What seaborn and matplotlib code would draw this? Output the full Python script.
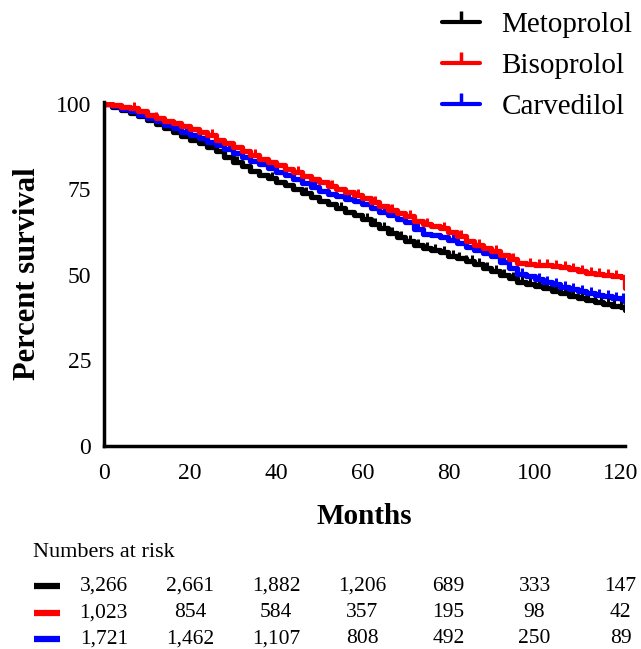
import numpy as np
import pandas as pd
import matplotlib
matplotlib.use("Agg")
import matplotlib.pyplot as plt
import matplotlib.transforms as mtransforms
from matplotlib.lines import Line2D
import seaborn as sns

sns.set_theme(style="white")
plt.rcParams['font.family'] = ['Liberation Serif', 'DejaVu Serif']
plt.rcParams['text.color'] = 'black'
plt.rcParams['axes.labelcolor'] = 'black'
plt.rcParams['xtick.color'] = 'black'
plt.rcParams['ytick.color'] = 'black'

# ---------------- data ----------------
groups = ["Metoprolol", "Bisoprolol", "Carvedilol"]
colors = ["#000000", "#ff0000", "#0000ff"]

months = [0, 2, 4, 6, 8, 10, 12, 14, 16, 18, 20, 22, 24, 26, 28, 30, 32, 34, 36, 38,
          40, 42, 44, 46, 48, 50, 52, 54, 56, 58, 60, 62, 64, 66, 68, 70, 72, 74, 76, 78,
          80, 82, 84, 86, 88, 90, 92, 94, 96, 98, 100, 102, 104, 106, 108, 110, 112, 114,
          116, 118, 120, 121]

metoprolol = [100, 99.0, 98.1, 97.4, 96.5, 95.3, 94.1, 92.9, 91.7, 90.6, 89.5, 88.6, 87.5,
              86.2, 84.6, 83.1, 81.8, 80.4, 79.2, 78.2, 77.2, 76.2, 75.1, 74.0, 72.8, 71.7,
              70.6, 69.6, 68.5, 67.4, 66.3, 65.0, 63.6, 62.3, 61.2, 60.0, 58.8, 58.0, 57.3,
              56.6, 55.6, 54.9, 54.0, 53.1, 52.0, 51.0, 50.0, 49.0, 48.0, 47.4, 46.8, 46.1,
              45.4, 44.6, 43.8, 43.2, 42.6, 42.0, 41.6, 41.0, 40.6, 39.8]

bisoprolol = [100, 99.6, 99.1, 98.7, 97.8, 96.9, 96.0, 95.0, 94.3, 93.5, 92.6, 91.8, 90.8,
              89.6, 88.5, 87.3, 86.2, 85.0, 83.9, 83.0, 82.2, 81.1, 80.0, 79.0, 78.0, 77.1,
              76.1, 75.2, 74.2, 73.3, 72.4, 71.3, 70.1, 69.0, 68.2, 67.3, 65.9, 64.9, 64.3,
              63.8, 62.6, 61.3, 59.8, 58.6, 57.9, 57.0, 55.9, 54.6, 53.6, 53.3, 53.0, 52.8,
              52.6, 52.3, 51.8, 51.0, 50.6, 50.3, 50.0, 49.6, 49.3, 46.3]

carvedilol = [100, 99.3, 98.6, 97.8, 96.9, 95.9, 95.0, 93.9, 92.9, 91.9, 91.0, 90.1, 89.0,
              88.0, 86.9, 85.7, 84.6, 83.4, 82.3, 81.2, 80.2, 79.2, 78.0, 76.9, 75.7, 74.6,
              73.8, 73.1, 72.3, 71.6, 70.8, 69.6, 68.4, 67.4, 66.4, 65.4, 63.3, 62.1, 61.6,
              61.0, 60.1, 59.2, 58.2, 57.2, 56.4, 55.4, 53.8, 52.0, 50.3, 49.6, 48.9, 48.0,
              47.2, 46.5, 45.9, 45.4, 44.7, 44.2, 43.8, 43.3, 43.0, 42.0]

metoprolol_censor = [6, 14, 23, 31, 39, 47, 55, 61, 63, 65, 67, 69, 71, 73, 75, 77, 79, 81,
                     82.5, 84, 85.5, 87, 89, 91, 93, 95, 97, 99, 101, 103, 105, 107, 109,
                     111, 112.5, 114, 115.5, 117, 118.5, 120]
bisoprolol_censor = [7, 12, 25, 35, 45, 53, 59, 63, 67, 71, 75, 79, 83, 87, 91, 95, 99, 101,
                     103, 105, 107, 109, 111, 113, 115, 117, 119]
carvedilol_censor = [9, 19, 29, 39, 49, 57, 65, 73, 81, 89, 93, 97, 101, 103, 105, 107, 109,
                     111, 113, 115, 117, 119, 120.5]

risk_times = [0, 20, 40, 60, 80, 100, 120]
risk_metoprolol = ["3,266", "2,661", "1,882", "1,206", "689", "333", "147"]
risk_bisoprolol = ["1,023", "854", "584", "357", "195", "98", "42"]
risk_carvedilol = ["1,721", "1,462", "1,107", "808", "492", "250", "89"]

x_ticks = [0, 20, 40, 60, 80, 100, 120]
y_ticks = [0, 25, 50, 75, 100]

# ---------------- figure ----------------
fig = plt.figure(figsize=(6.41, 6.49), dpi=100)
ax = fig.add_axes([0.162, 0.313, 0.813, 0.530])

series = [metoprolol, bisoprolol, carvedilol]
censors = [metoprolol_censor, bisoprolol_censor, carvedilol_censor]

frames = []
for g, s in zip(groups, series):
    frames.append(pd.DataFrame({"Months": months, "Survival": s, "Group": g}))
df = pd.concat(frames, ignore_index=True)

draw_order = [0, 2, 1]
for i in draw_order:
    sub = df[df["Group"] == groups[i]]
    sns.lineplot(data=sub, x="Months", y="Survival", ax=ax, color=colors[i],
                 lw=3.8, drawstyle="steps-post", estimator=None, legend=False)
    t = np.array(months)
    sv = np.array(series[i])
    c = np.array(censors[i])
    idx = np.searchsorted(t, c, side="right") - 1
    ax.plot(c, sv[idx], linestyle="none", marker=2, markersize=4.5, mew=2.2,
            color=colors[i])

ax.set_xlim(0, 121)
ax.set_ylim(0, 100.6)
ax.set_xticks(x_ticks)
ax.set_yticks(y_ticks)
ax.tick_params(axis="both", which="major", direction="out", length=7, width=2.5,
               labelsize=17, colors="black")
ax.tick_params(axis="x", pad=5)
ax.tick_params(axis="y", pad=2)
for side in ["top", "right"]:
    ax.spines[side].set_visible(False)
for side in ["left", "bottom"]:
    ax.spines[side].set_linewidth(2.5)
    ax.spines[side].set_color("black")

ax.set_xlabel("Months", fontsize=21, fontweight="bold", labelpad=14)
ax.set_ylabel("Percent survival", fontsize=22, fontweight="bold", labelpad=10)

# legend
handles = [Line2D([0], [0], color=colors[i], lw=3, marker=2, markersize=8, mew=2.5)
           for i in range(3)]
fig.legend(handles, groups, loc="upper left", bbox_to_anchor=(0.671, 1.0),
           frameon=False, fontsize=21, handlelength=1.3, handletextpad=0.75,
           labelspacing=0.5, borderaxespad=0)

# numbers at risk
trans = mtransforms.blended_transform_factory(ax.transData, fig.transFigure)
fig.text(0.052, 0.149, "Numbers at risk", fontsize=16, va="center", ha="left")
rows = [risk_metoprolol, risk_bisoprolol, risk_carvedilol]
row_y = [0.097, 0.056, 0.016]
for r, (vals, yy) in enumerate(zip(rows, row_y)):
    fig.add_artist(Line2D([0.053, 0.094], [yy, yy], transform=fig.transFigure,
                          color=colors[r], lw=4.5, solid_capstyle="butt"))
    for tt, v in zip(risk_times, vals):
        fig.text(tt, yy, v, transform=trans, fontsize=15.5, ha="center", va="center")

fig.savefig("out.png", dpi=100)
